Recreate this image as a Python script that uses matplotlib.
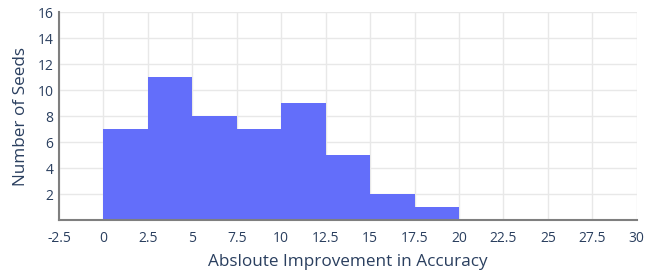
import matplotlib
matplotlib.use("Agg")
import matplotlib.pyplot as plt
import numpy as np

bin_edges = [0, 2.5, 5, 7.5, 10, 12.5, 15, 17.5, 20]
counts = [7, 11, 8, 7, 9, 5, 2, 1]
x_ticks = [-2.5, 0, 2.5, 5, 7.5, 10, 12.5, 15, 17.5, 20, 22.5, 25, 27.5, 30]
x_tick_labels = ["-2.5", "0", "2.5", "5", "7.5", "10", "12.5", "15", "17.5", "20", "22.5", "25", "27.5", "30"]
y_ticks = [2, 4, 6, 8, 10, 12, 14, 16]

plt.rcParams['font.family'] = ['Open Sans', 'DejaVu Sans']
text_color = '#2a3f5f'

fig = plt.figure(figsize=(6.47, 2.73), dpi=100)
ax = fig.add_axes([59/647, 1 - 220/273, (636.7 - 59)/647, (220 - 12)/273])

widths = np.diff(bin_edges)
ax.bar(bin_edges[:-1], counts, width=widths, align='edge', color='#636efa', linewidth=0, zorder=2)

ax.set_xlim(-2.5, 30)
ax.set_ylim(0, 16)
ax.set_xticks(x_ticks)
ax.set_xticklabels(x_tick_labels)
ax.set_yticks(y_ticks)
ax.tick_params(axis='both', length=0, labelsize=10, colors=text_color)
ax.tick_params(axis='x', pad=8)
ax.tick_params(axis='y', pad=4)
ax.grid(True, color='#e8e8e8', linewidth=1, zorder=0)
ax.set_axisbelow(True)
for s in ['top', 'right']:
    ax.spines[s].set_visible(False)
for s in ['left', 'bottom']:
    ax.spines[s].set_color('#7f7f7f')
    ax.spines[s].set_linewidth(1.5)
    ax.spines[s].set_zorder(3)

ax.set_xlabel('Absloute Improvement in Accuracy', fontsize=12.3, color=text_color, labelpad=6)
ax.set_ylabel('Number of Seeds', fontsize=12.3, color=text_color, labelpad=6)

fig.savefig('out.png', dpi=100)
